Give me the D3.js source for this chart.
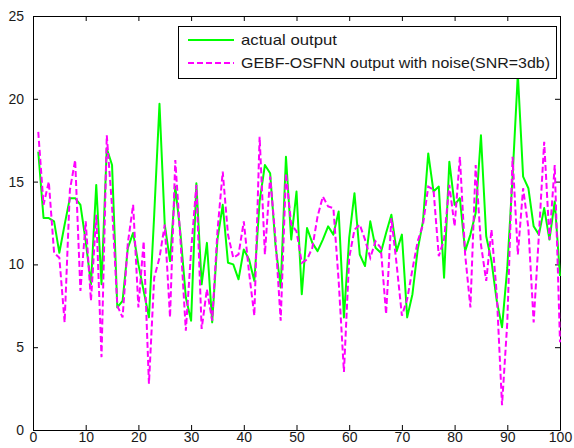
<!DOCTYPE html>
<html>
<head>
<meta charset="utf-8">
<script src="https://cdn.jsdelivr.net/npm/d3@7"></script>
<style>
  html, body { margin: 0; padding: 0; background: #fff; }
  svg { display: block; }
  .tick text { font-family: Arial, "Liberation Sans", sans-serif; font-size: 14px; fill: #1a1a1a; }
</style>
</head>
<body>
<svg id="chart" width="574" height="448"></svg>
<script>
// Sample index 1..100
const sampleIndex = d3.range(1, 101);

// Actual system output
const actualOutput = [
  16.8, 12.8, 12.8, 12.6, 10.7, 12.4, 14.0, 14.0, 13.6, 11.4,
  8.8, 14.8, 8.8, 17.0, 16.0, 7.4, 7.8, 11.0, 11.9, 10.0,
  8.4, 6.8, 13.0, 19.7, 12.4, 10.2, 14.7, 11.8, 8.0, 6.6,
  14.9, 8.8, 11.3, 6.5, 11.5, 13.6, 10.1, 10.0, 9.1, 10.9,
  10.3, 9.0, 13.8, 16.0, 15.5, 11.2, 8.6, 16.5, 11.5, 14.4,
  8.2, 12.2, 11.3, 10.8, 11.5, 12.3, 11.8, 13.2, 6.8, 11.6,
  14.3, 10.6, 9.9, 12.6, 11.0, 10.7, 11.9, 13.0, 10.8, 11.8,
  6.8, 8.2, 10.9, 12.6, 16.7, 14.4, 14.7, 9.2, 16.2, 13.6,
  14.0, 10.8, 11.8, 13.1, 17.8, 11.7, 10.2, 7.8, 6.2, 9.8,
  15.3, 21.5, 15.3, 14.6, 12.3, 11.8, 13.4, 11.5, 13.8, 9.3
];

// Network output with noisy input
const noisyOutput = [
  18.0, 13.6, 15.0, 10.7, 10.4, 6.5, 14.5, 16.3, 8.4, 12.6,
  7.8, 13.0, 4.4, 17.8, 13.5, 7.5, 6.8, 11.3, 13.6, 7.4,
  11.4, 2.8, 9.2, 10.4, 12.4, 6.8, 16.3, 11.4, 6.0, 10.8,
  14.8, 6.1, 8.5, 6.6, 12.0, 15.6, 11.8, 10.4, 10.6, 12.6,
  9.5, 6.9, 17.7, 10.6, 15.3, 11.6, 6.6, 15.5, 12.4, 12.0,
  10.1, 10.3, 11.0, 12.9, 14.1, 13.5, 13.4, 9.0, 3.5, 10.4,
  12.1, 12.4, 11.5, 10.4, 11.4, 11.0, 7.0, 12.8, 10.0, 6.9,
  7.9, 9.7, 11.4, 12.4, 14.7, 14.5, 10.5, 11.5, 14.8, 12.3,
  16.5, 10.6, 7.4, 16.0, 11.2, 9.0, 12.1, 8.2, 1.5, 6.5,
  16.5, 10.6, 14.6, 12.2, 6.5, 11.8, 17.4, 11.5, 16.0, 5.3
];

const xTicks = [0, 10, 20, 30, 40, 50, 60, 70, 80, 90, 100];
const yTicks = [0, 5, 10, 15, 20, 25];
const legendLabels = ["actual output", "GEBF-OSFNN output with noise(SNR=3db)"];

const svg = d3.select("#chart");
const plotLeft = 33, plotRight = 560, plotTop = 16, plotBottom = 430;

const x = d3.scaleLinear().domain([0, 100]).range([plotLeft, plotRight]);
const y = d3.scaleLinear().domain([0, 25]).range([plotBottom, plotTop]);

// Axes with inward ticks on all four sides
const axisStyle = g => {
  g.selectAll(".domain").attr("stroke", "#000").attr("stroke-width", 1);
  g.selectAll(".tick line").attr("stroke", "#000");
};

svg.append("g").attr("transform", `translate(0,${plotBottom})`)
  .call(d3.axisBottom(x).tickValues(xTicks).tickSizeInner(-5).tickSizeOuter(0).tickPadding(2))
  .call(axisStyle)
  .call(g => g.selectAll(".tick text").attr("dy", "0.68em"));
svg.append("g").attr("transform", `translate(0,${plotTop})`)
  .call(d3.axisTop(x).tickValues(xTicks).tickSizeInner(-5).tickSizeOuter(0).tickFormat(""))
  .call(axisStyle);
svg.append("g").attr("transform", `translate(${plotLeft},0)`)
  .call(d3.axisLeft(y).tickValues(yTicks).tickSizeInner(-5).tickSizeOuter(0).tickPadding(9))
  .call(axisStyle);
svg.append("g").attr("transform", `translate(${plotRight},0)`)
  .call(d3.axisRight(y).tickValues(yTicks).tickSizeInner(-5).tickSizeOuter(0).tickFormat(""))
  .call(axisStyle);

const line = d3.line().x((d, i) => x(sampleIndex[i])).y(d => y(d));

svg.append("path").datum(actualOutput)
  .attr("d", line).attr("fill", "none")
  .attr("stroke", "#00ff00").attr("stroke-width", 2).attr("stroke-linejoin", "round");

svg.append("path").datum(noisyOutput)
  .attr("d", line).attr("fill", "none")
  .attr("stroke", "#ff00ff").attr("stroke-width", 2)
  .attr("stroke-dasharray", "6,3");

// Legend
const lg = svg.append("g");
lg.append("rect").attr("x", 178.5).attr("y", 26.5).attr("width", 378).attr("height", 52)
  .attr("fill", "#fff").attr("stroke", "#000").attr("stroke-width", 1);
const legendStyles = [
  { color: "#00ff00", dash: null, width: 96 },
  { color: "#ff00ff", dash: "6,3", width: 309 }
];
legendLabels.forEach((label, i) => {
  const ly = 40 + i * 23;
  lg.append("line").attr("x1", 188).attr("x2", 234).attr("y1", ly).attr("y2", ly)
    .attr("stroke", legendStyles[i].color).attr("stroke-width", 2)
    .attr("stroke-dasharray", legendStyles[i].dash);
  lg.append("text").attr("x", 241).attr("y", ly + 5)
    .attr("font-family", "Arial, 'Liberation Sans', sans-serif").attr("font-size", 15)
    .attr("textLength", legendStyles[i].width).attr("lengthAdjust", "spacingAndGlyphs")
    .attr("fill", "#1a1a1a").text(label);
});
</script>
</body>
</html>
